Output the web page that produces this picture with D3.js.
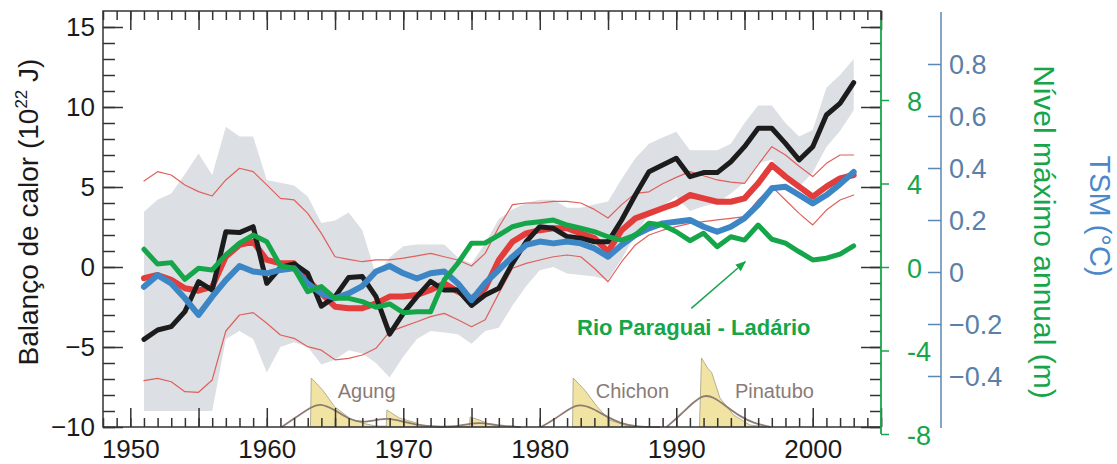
<!DOCTYPE html>
<html>
<head>
<meta charset="utf-8">
<script src="https://cdn.jsdelivr.net/npm/d3@7"></script>
<style>
  html, body { margin: 0; padding: 0; background: #fff; }
  svg { display: block; font-family: Arial, "Liberation Sans", sans-serif; }
</style>
</head>
<body>
<svg id="chart" width="1117" height="464"></svg>
<script>
// ---- data -----------------------------------------------------------
const years = d3.range(1951, 2004);

// ocean heat content, observed (10^22 J)
const heatObs = [
  -4.52, -3.94, -3.73, -2.79, -0.92, -1.44, 2.2, 2.15, 2.52, -1.02,
  -0.02, 0.2, -0.4, -2.45, -1.85, -0.65, -0.6, -1.85, -4.2, -2.9,
  -1.85, -0.9, -1.44, -1.44, -2.4, -1.75, -1.33, 0.23, 1.58, 2.52,
  2.42, 1.9, 1.8, 1.58, 1.58, 2.94, 4.5, 5.96, 6.38, 6.79,
  5.65, 5.9, 5.9, 6.58, 7.52, 8.67, 8.67, 7.73, 6.69, 7.52,
  9.5, 10.23, 11.52
];
// uncertainty band of the observed series (10^22 J)
const heatObsHi = [
  3.46, 4.2, 4.6, 5.8, 7.1, 5.75, 8.77, 8.15, 8.15, 5.44,
  5.27, 5.1, 4.4, 2.75, 2.9, 3.4, 2.3, -0.5, 0.6, 1.3,
  1.4, 1.4, 1.4, 0.6, 0.2, 1.5, 3.0, 3.6, 4.0, 4.2,
  4.2, 3.7, 3.7, 3.9, 4.1, 5.5, 6.8, 7.7, 8.1, 8.46,
  7.3, 7.3, 7.3, 7.7, 9.0, 10.1, 10.1, 9.0, 8.15, 8.56,
  11.2, 12.0, 13.0
];
const heatObsLo = [
  -9.0, -9.0, -9.0, -9.0, -9.0, -9.0, -4.5, -4.0, -4.5, -6.6,
  -5.0, -4.7, -5.0, -6.1, -5.8, -5.2, -5.4, -6.0, -6.9, -5.6,
  -4.5, -4.0, -4.1, -4.2, -4.8, -4.0, -3.8, -2.4, -1.2, -0.2,
  0.0, -0.4, -0.5, -0.6, -0.8, 0.5, 2.0, 3.3, 3.8, 4.4,
  3.5, 3.8, 4.0, 4.6, 5.3, 6.5, 6.7, 5.8, 5.0, 5.9,
  7.5, 8.5, 9.8
];
// model ensemble mean and spread (10^22 J)
const heatModel = [
  -0.7, -0.5, -0.8, -1.33, -1.48, -1.23, 0.65, 1.38, 1.58, 0.44,
  0.23, 0.23, -0.8, -1.65, -2.48, -2.58, -2.58, -2.27, -1.85, -1.85,
  -1.75, -1.44, -1.02, -1.54, -1.96, -1.33, 0.44, 1.58, 2.1, 2.3,
  2.42, 2.42, 2.1, 1.8, 0.96, 2.3, 3.04, 3.35, 3.67, 3.98,
  4.5, 4.29, 4.08, 4.08, 4.29, 5.23, 6.38, 5.65, 5.02, 4.4,
  5.02, 5.54, 5.75
];
const heatModelHi = [
  5.38, 5.96, 5.75, 5.13, 4.71, 4.44, 5.44, 6.17, 5.96, 5.13,
  4.29, 4.19, 3.35, 2.1, 0.64, 0.48, 0.33, 0.44, 0.44, 0.55,
  0.7, 0.85, 0.64, 0.44, 0.06, 0.85, 2.5, 3.9, 4.0, 4.0,
  4.1, 4.1, 4.0, 3.6, 3.06, 3.9, 4.6, 4.7, 5.2, 5.6,
  5.96, 5.7, 5.44, 5.3, 5.23, 6.4, 7.52, 7.0, 6.3, 5.65,
  6.48, 7.0, 7.0
];
const heatModelLo = [
  -7.1, -6.96, -7.17, -7.79, -7.83, -7.06, -4.0, -3.0, -2.85, -3.52,
  -4.25, -4.46, -4.98, -5.2, -5.8, -5.71, -5.5, -5.08, -4.04, -3.73,
  -3.42, -3.1, -2.9, -3.3, -3.73, -3.3, -1.65, -0.08, 0.23, 0.44,
  0.64, 0.75, 0.64, -0.08, -0.92, 0.33, 1.38, 2.0, 2.3, 2.52,
  2.73, 2.83, 2.94, 3.04, 3.15, 4.19, 5.02, 4.19, 3.35, 2.63,
  3.56, 4.19, 4.5
];
// sea surface temperature anomaly, TSM (°C)
const tsm = [
  -0.057, -0.012, -0.044, -0.101, -0.165, -0.095, -0.031, 0.023, 0.002, -0.005,
  0.008, 0.014, -0.044, -0.082, -0.101, -0.082, -0.054, 0.002, 0.023, -0.005,
  -0.025, -0.005, 0.002, -0.044, -0.108, -0.043, 0.008, 0.059, 0.104, 0.117,
  0.110, 0.117, 0.110, 0.091, 0.059, 0.104, 0.142, 0.168, 0.187, 0.193,
  0.200, 0.174, 0.155, 0.174, 0.207, 0.258, 0.322, 0.328, 0.296, 0.264,
  0.296, 0.338, 0.385
];
// Rio Paraguai at Ladário, annual maximum level anomaly (m)
const ladario = [
  0.85, 0.14, 0.21, -0.59, -0.06, -0.14, 0.58, 1.14, 1.53, 1.21,
  0.05, -0.06, -1.18, -0.94, -1.5, -1.5, -1.66, -1.93, -1.77, -2.19,
  -2.14, -2.14, -0.62, 0.18, 1.14, 1.15, 1.53, 1.93, 2.10, 2.17,
  2.25, 2.01, 1.86, 1.69, 1.45, 1.29, 1.53, 2.10, 2.01, 1.69,
  1.26, 1.62, 0.97, 1.45, 1.29, 2.01, 1.33, 1.14, 0.73, 0.34,
  0.42, 0.62, 1.01
];

// volcanic aerosol optical depth: [year, value]
const aodSpikes = [
  [[1963.2, 0], [1963.26, 0.1065], [1964.1, 0.080], [1964.97, 0.044], [1966.07, 0.019],
   [1967.05, 0.008], [1968.0, 0.002], [1968.75, 0.002], [1968.8, 0.037], [1969.7, 0.0196],
   [1970.96, 0.0087], [1971.4, 0.002], [1974.85, 0.002], [1974.9, 0.0217], [1975.6, 0.015],
   [1976.3, 0.006], [1977.1, 0]],
  [[1982.4, 0], [1982.45, 0.1065], [1983.3, 0.080], [1984.2, 0.0443], [1985.1, 0.0152],
   [1986.6, 0.0007], [1987.0, 0]],
  [[1991.7, 0], [1991.85, 0.15], [1992.3, 0.128], [1992.6, 0.118], [1993.2, 0.063],
   [1994.2, 0.026], [1995.4, 0.0043], [1996.6, 0]]
];
const aodSmooth = [
  [[1961.1, 0], [1962.2, 0.0225], [1963.3, 0.0442], [1963.9, 0.0515], [1965.0, 0.037],
   [1966.1, 0.0152], [1967.0, 0.0093], [1968.3, 0.0167], [1968.8, 0.0189], [1969.8, 0.0137],
   [1971.0, 0.0043], [1972.5, 0], [1973.7, 0], [1974.9, 0.008], [1975.9, 0.0093],
   [1977.2, 0.0022], [1978.6, 0]],
  [[1980.1, 0], [1981.0, 0.0152], [1982.2, 0.0406], [1982.9, 0.05], [1983.9, 0.0406],
   [1984.9, 0.0224], [1985.9, 0.008], [1987.1, 0], [1988.8, 0]],
  [[1989.3, 0], [1990.3, 0.0261], [1991.3, 0.055], [1992.0, 0.0696], [1992.7, 0.066],
   [1993.7, 0.0442], [1994.7, 0.0224], [1995.7, 0.008], [1996.9, 0]]
];
const volcanoNames = ["Agung", "Chichon", "Pinatubo"];
const volcanoLabelYears = [1965.2, 1984.1, 1994.3];

const heatTicks = [-10, -5, 0, 5, 10, 15];
const levelTicks = [-8, -4, 0, 4, 8];
const tsmTicks = [-0.4, -0.2, 0, 0.2, 0.4, 0.6, 0.8];
const yearTicks = [1950, 1960, 1970, 1980, 1990, 2000];

// annotation arrow for the river series: [year, level]
const arrowFrom = [1991.1, -1.98];
const arrowTo = [1995.05, 0.25];

// ---- scales ---------------------------------------------------------
const svg = d3.select("#chart");
const plotL = 103, plotR = 881, plotT = 11, plotB = 427;

const x = d3.scaleLinear().domain([1948, 2005]).range([plotL, plotR]);
const yHeat = d3.scaleLinear().domain([-10, 15]).range([plotB, 27]);
const yLevel = d3.scaleLinear().domain([-8, 8]).range([434, 100]);
const yTsm = d3.scaleLinear().domain([-0.4, 0.8]).range([376, 64]);
const yAod = d3.scaleLinear().domain([0, 0.15]).range([plotB, 358]);

const C = {
  band: "#dcdfe3", black: "#1c1c1c", red: "#e23c3b", redThin: "#e0605c",
  blue: "#3d86c6", green: "#16a64a", axis: "#333", volcFill: "#f1e4a2",
  volcEdge: "#a9a88c", volcLine: "#8e7b74", volcText: "#8a7b76",
  tsmAxis: "#5a87b3", tsmText: "#5a7fa8", tsmTitle: "#4a88cc"
};

// ---- uncertainty band ----------------------------------------------
svg.append("path")
  .datum(years.map((yr, i) => [yr, heatObsLo[i], heatObsHi[i]]))
  .attr("fill", C.band)
  .attr("d", d3.area().x(d => x(d[0])).y0(d => yHeat(d[1])).y1(d => yHeat(d[2])));

// ---- volcanic aerosol ----------------------------------------------
const vol = svg.append("g");
aodSpikes.forEach(s => {
  vol.append("path").datum(s)
    .attr("fill", C.volcFill).attr("stroke", C.volcEdge).attr("stroke-width", 0.9)
    .attr("d", d3.area().x(d => x(d[0])).y0(yAod(0)).y1(d => yAod(d[1])));
});
aodSmooth.forEach(s => {
  vol.append("path").datum(s)
    .attr("fill", "none").attr("stroke", C.volcLine).attr("stroke-width", 1.8)
    .attr("d", d3.line().curve(d3.curveBasis).x(d => x(d[0])).y(d => yAod(d[1])));
});
volcanoNames.forEach((name, i) => {
  vol.append("text").text(name)
    .attr("x", x(volcanoLabelYears[i])).attr("y", 398)
    .attr("font-size", 20).attr("fill", C.volcText);
});

// ---- series lines ---------------------------------------------------
function drawLine(values, scale, color, width) {
  svg.append("path")
    .datum(years.map((yr, i) => [yr, values[i]]))
    .attr("fill", "none").attr("stroke", color).attr("stroke-width", width)
    .attr("stroke-linejoin", "round").attr("stroke-linecap", "round")
    .attr("d", d3.line().x(d => x(d[0])).y(d => scale(d[1])));
}
drawLine(heatModelHi, yHeat, C.redThin, 1.2);
drawLine(heatModelLo, yHeat, C.redThin, 1.2);
drawLine(heatModel, yHeat, C.red, 6);
drawLine(heatObs, yHeat, C.black, 5);
drawLine(tsm, yTsm, C.blue, 6);
drawLine(ladario, yLevel, C.green, 5);

// ---- annotation -----------------------------------------------------
const defs = svg.append("defs");
defs.append("marker").attr("id", "arrowhead")
  .attr("viewBox", "0 0 10 10").attr("refX", 9).attr("refY", 5)
  .attr("markerWidth", 7).attr("markerHeight", 7).attr("orient", "auto")
  .append("path").attr("d", "M0,1 L10,5 L0,9 Z").attr("fill", C.green);
svg.append("line")
  .attr("x1", x(arrowFrom[0])).attr("y1", yLevel(arrowFrom[1]))
  .attr("x2", x(arrowTo[0])).attr("y2", yLevel(arrowTo[1]))
  .attr("stroke", C.green).attr("stroke-width", 1.5)
  .attr("marker-end", "url(#arrowhead)");
svg.append("text").text("Rio Paraguai - Ladário")
  .attr("x", 577).attr("y", 335)
  .attr("font-size", 22).attr("font-weight", "bold").attr("fill", C.green);

// ---- frame and axes -------------------------------------------------
const axisStyle = g => {
  g.select(".domain").remove();
  g.selectAll("line").attr("stroke", C.axis).attr("stroke-width", 1.5);
};
const minorYears = d3.range(1948, 2006);
const majorYears = minorYears.filter(d => d % 5 === 0);
const minorHeat = d3.range(-10, 16);
const majorHeat = minorHeat.filter(d => d % 5 === 0);

// bottom / top ticks pointing inward
svg.append("g").attr("transform", `translate(0,${plotB})`)
  .call(d3.axisTop(x).tickValues(minorYears).tickSize(9).tickFormat("")).call(axisStyle);
svg.append("g").attr("transform", `translate(0,${plotB})`)
  .call(d3.axisTop(x).tickValues(majorYears).tickSize(19).tickFormat("")).call(axisStyle);
svg.append("g").attr("transform", `translate(0,${plotT})`)
  .call(d3.axisBottom(x).tickValues(minorYears).tickSize(9).tickFormat("")).call(axisStyle);
svg.append("g").attr("transform", `translate(0,${plotT})`)
  .call(d3.axisBottom(x).tickValues(majorYears).tickSize(19).tickFormat("")).call(axisStyle);
// left / right ticks pointing inward
svg.append("g").attr("transform", `translate(${plotL},0)`)
  .call(d3.axisRight(yHeat).tickValues(minorHeat).tickSize(12).tickFormat("")).call(axisStyle);
svg.append("g").attr("transform", `translate(${plotL},0)`)
  .call(d3.axisRight(yHeat).tickValues(majorHeat).tickSize(20).tickFormat("")).call(axisStyle);
svg.append("g").attr("transform", `translate(${plotR},0)`)
  .call(d3.axisLeft(yHeat).tickValues(minorHeat).tickSize(11).tickFormat("")).call(axisStyle);
svg.append("g").attr("transform", `translate(${plotR},0)`)
  .call(d3.axisLeft(yHeat).tickValues(majorHeat).tickSize(20).tickFormat("")).call(axisStyle);

svg.append("path")
  .attr("d", `M${plotR},${plotT + 9} V${plotT} H${plotL} V${plotB} H${plotR}`)
  .attr("fill", "none").attr("stroke", C.axis).attr("stroke-width", 1.5);

// tick labels
const yearLabels = svg.append("g").attr("transform", `translate(0,${plotB})`)
  .call(d3.axisBottom(x).tickValues(yearTicks).tickSize(0).tickPadding(13).tickFormat(d3.format("d")));
yearLabels.select(".domain").remove();
yearLabels.attr("font-family", null);
yearLabels.selectAll("text").attr("font-size", 26).attr("fill", "#1a1a1a");

const heatLabels = svg.append("g").attr("transform", `translate(${plotL},0)`)
  .call(d3.axisLeft(yHeat).tickValues(heatTicks).tickSize(0).tickPadding(8));
heatLabels.select(".domain").remove();
heatLabels.attr("font-family", null);
heatLabels.selectAll("text").attr("font-size", 26).attr("fill", "#1a1a1a");

// river level axis (green)
const levelAxis = svg.append("g").attr("transform", `translate(${plotR},0)`)
  .call(d3.axisRight(yLevel).tickValues(levelTicks).tickSize(8).tickPadding(18)
    .tickFormat(d => String(d)));
levelAxis.attr("font-family", null);
levelAxis.select(".domain").attr("d", `M0,${yLevel(-8)}V${plotT + 9}`)
  .attr("stroke", C.green).attr("stroke-width", 1.8);
levelAxis.selectAll("line").attr("stroke", C.green).attr("stroke-width", 1.5);
levelAxis.selectAll("text").attr("font-size", 27).attr("fill", C.green).attr("dy", "0.38em");

// sea surface temperature axis (blue)
const tsmX = 941;
const tsmAxis = svg.append("g").attr("transform", `translate(${tsmX},0)`)
  .call(d3.axisLeft(yTsm).tickValues(tsmTicks).tickSize(13).tickFormat(""));
tsmAxis.select(".domain").attr("d", `M0,12V428`).attr("stroke", C.tsmAxis).attr("stroke-width", 1.5);
tsmAxis.selectAll("line").attr("stroke", C.tsmAxis).attr("stroke-width", 1.5);
svg.append("g").selectAll("text").data(tsmTicks).join("text")
  .attr("x", tsmX + 8).attr("y", d => yTsm(d)).attr("dy", "0.36em")
  .attr("font-size", 27).attr("fill", C.tsmText)
  .text(d => d === 0 ? "0" : d3.format(".1f")(d).replace("-", "\u2212"));

// ---- axis titles ----------------------------------------------------
const heatTitle = svg.append("text")
  .attr("transform", "translate(38,212) rotate(-90)")
  .attr("text-anchor", "middle").attr("font-size", 28).attr("fill", "#1a1a1a");
heatTitle.append("tspan").text("Balanço de calor (10");
heatTitle.append("tspan").text("22").attr("font-size", 17).attr("dy", -11);
heatTitle.append("tspan").text(" J)").attr("dy", 11);

svg.append("text").text("Nível máximo annual (m)")
  .attr("transform", "translate(1034,232) rotate(90)")
  .attr("text-anchor", "middle").attr("font-size", 30).attr("fill", C.green);

svg.append("text").text("TSM (°C)")
  .attr("transform", "translate(1090,216) rotate(90)")
  .attr("text-anchor", "middle").attr("font-size", 29).attr("fill", C.tsmTitle);
</script>
</body>
</html>
